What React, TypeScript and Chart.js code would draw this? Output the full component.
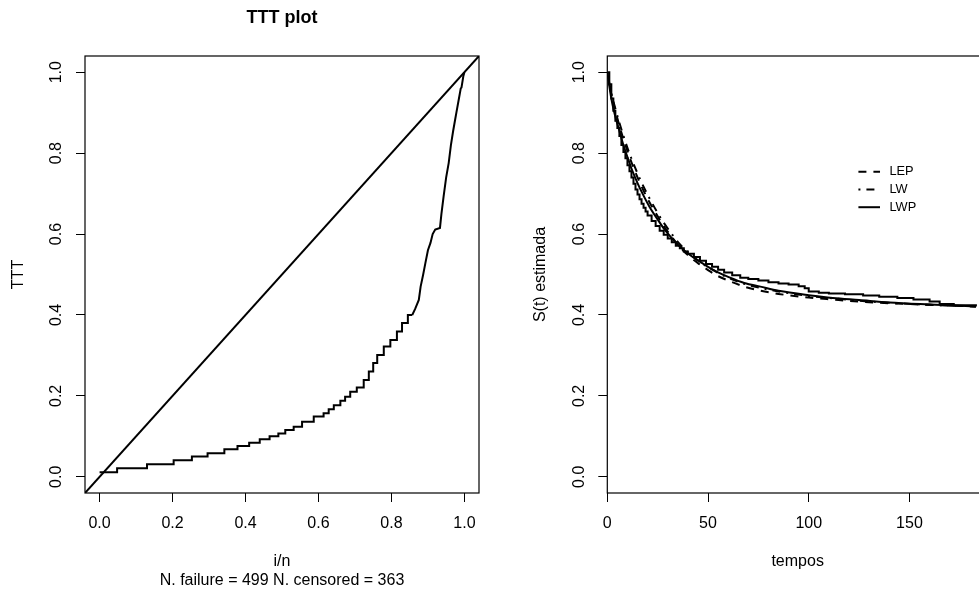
import { useEffect, useRef } from 'react';
import { Chart, registerables } from 'chart.js';

Chart.register(...registerables);

// ---------- data: TTT plot ----------
const tttTicks = [0, 0.2, 0.4, 0.6, 0.8, 1.0];
// stepped (lower) part of the empirical TTT curve
const tttStepX = [0, 0.048, 0.13, 0.203, 0.253, 0.296, 0.342, 0.378, 0.41, 0.439, 0.466, 0.49, 0.509, 0.532, 0.555, 0.587, 0.614, 0.628, 0.642, 0.66, 0.673, 0.687, 0.705, 0.724, 0.738, 0.75, 0.761, 0.779, 0.797, 0.815, 0.829, 0.845, 0.857];
const tttStepY = [0.011, 0.021, 0.031, 0.041, 0.05, 0.058, 0.068, 0.076, 0.084, 0.093, 0.1, 0.107, 0.116, 0.124, 0.136, 0.149, 0.157, 0.167, 0.177, 0.188, 0.198, 0.21, 0.221, 0.239, 0.26, 0.281, 0.301, 0.322, 0.338, 0.359, 0.38, 0.4, 0.4];
// steep (upper) part of the empirical TTT curve
const tttSteepX = [0.857, 0.865, 0.875, 0.88, 0.887, 0.893, 0.9, 0.907, 0.913, 0.92, 0.933, 0.937, 0.943, 0.95, 0.957, 0.963, 0.969, 0.975, 0.978, 0.985, 0.99, 0.992, 0.997, 1.0];
const tttSteepY = [0.4, 0.415, 0.437, 0.47, 0.5, 0.528, 0.56, 0.578, 0.6, 0.611, 0.615, 0.65, 0.693, 0.74, 0.776, 0.82, 0.854, 0.885, 0.9, 0.935, 0.96, 0.962, 0.99, 1.0];
const diagX = [-0.04, 1.04];
const diagY = [-0.04, 1.04];

// ---------- data: survival ----------
const timeTicks = [0, 50, 100, 150];
const survTicks = [0, 0.2, 0.4, 0.6, 0.8, 1.0];
const kmTimes = [0, 1, 2, 3, 4, 5, 6, 7, 8, 9, 10, 11, 12, 13, 14, 15, 16, 17, 18, 19, 20, 22, 24, 26, 28, 30, 32, 34, 36, 38, 40, 43, 46, 49, 52, 55, 58, 62, 66, 70, 75, 80, 85, 90, 95, 98, 100, 105, 110, 118, 127, 135, 144, 152, 160, 165, 172, 183];
const kmSurv = [1, 0.97, 0.935, 0.905, 0.88, 0.862, 0.842, 0.82, 0.803, 0.787, 0.77, 0.755, 0.74, 0.724, 0.71, 0.698, 0.686, 0.675, 0.665, 0.656, 0.646, 0.632, 0.62, 0.608, 0.598, 0.589, 0.58, 0.571, 0.565, 0.557, 0.551, 0.543, 0.534, 0.526, 0.519, 0.512, 0.505, 0.498, 0.492, 0.489, 0.485, 0.481, 0.478, 0.475, 0.471, 0.466, 0.458, 0.455, 0.453, 0.451, 0.448, 0.445, 0.442, 0.438, 0.433, 0.427, 0.424, 0.421];
const fitTimes = [0, 2, 4, 6, 8, 10, 12, 15, 18, 21, 25, 28, 32, 36, 40, 45, 50, 55, 60, 68, 76, 85, 100, 112, 125, 140, 160, 183];
const lepSurv = [1, 0.945, 0.905, 0.868, 0.835, 0.805, 0.777, 0.74, 0.707, 0.678, 0.644, 0.62, 0.593, 0.568, 0.548, 0.528, 0.511, 0.496, 0.485, 0.47, 0.46, 0.452, 0.443, 0.438, 0.433, 0.429, 0.425, 0.421];
const lwSurv = [1, 0.948, 0.91, 0.875, 0.843, 0.813, 0.786, 0.75, 0.717, 0.688, 0.652, 0.628, 0.6, 0.575, 0.555, 0.535, 0.518, 0.504, 0.492, 0.477, 0.467, 0.458, 0.447, 0.441, 0.435, 0.43, 0.425, 0.421];
const lwpSurv = [1, 0.935, 0.89, 0.855, 0.82, 0.79, 0.762, 0.726, 0.695, 0.667, 0.636, 0.614, 0.59, 0.569, 0.552, 0.535, 0.519, 0.505, 0.494, 0.479, 0.47, 0.46, 0.449, 0.442, 0.437, 0.431, 0.426, 0.421];
const legendLabels = ['LEP', 'LW', 'LWP'];

const FONT = "'Liberation Sans', Arial, Helvetica, sans-serif";
const LEP_DASH = [8, 7];
const LW_DASH = [2, 6, 8, 6];
const legendDashes = [LEP_DASH, LW_DASH, []];

const zip = (xs: number[], ys: number[]) => xs.map((x, i) => ({ x, y: ys[i] }));

const gridOpts = {
  display: true,
  drawOnChartArea: false,
  drawTicks: true,
  tickLength: 9,
  color: '#000',
  tickColor: '#000',
  lineWidth: 1,
};

function xScale(min: number, max: number, ticks: number[], fmt: (v: number) => string, title: string | string[], padBottom: number) {
  return {
    type: 'linear' as const,
    position: 'bottom' as const,
    min,
    max,
    afterBuildTicks: (s: any) => {
      s.ticks = ticks.map((v) => ({ value: v }));
    },
    afterFit: (s: any) => {
      s.height = 99;
    },
    ticks: {
      autoSkip: false,
      minRotation: 0,
      maxRotation: 0,
      padding: 11.6,
      color: '#000',
      font: { family: FONT, size: 16 },
      callback: (v: any) => fmt(Number(v)),
    },
    grid: gridOpts,
    border: { display: false },
    title: {
      display: true,
      text: title,
      color: '#000',
      font: { family: FONT, size: 16, lineHeight: 1.156 },
      padding: { top: 0, bottom: padBottom },
    },
  };
}

function yScale(width: number, title: string, padTop: number) {
  return {
    type: 'linear' as const,
    position: 'left' as const,
    min: -0.04,
    max: 1.04,
    afterBuildTicks: (s: any) => {
      s.ticks = survTicks.map((v) => ({ value: v }));
    },
    afterFit: (s: any) => {
      s.width = width;
    },
    ticks: {
      autoSkip: false,
      minRotation: 90,
      maxRotation: 90,
      crossAlign: 'center' as const,
      padding: 8,
      color: '#000',
      font: { family: FONT, size: 16 },
      callback: (v: any) => Number(v).toFixed(1),
    },
    grid: gridOpts,
    border: { display: false },
    title: {
      display: true,
      text: title,
      color: '#000',
      font: { family: FONT, size: 16, lineHeight: 1.156 },
      padding: { top: padTop, bottom: 0 },
    },
  };
}

const boxPlugin = {
  id: 'rbox',
  afterDraw(chart: any) {
    const { ctx, chartArea: a } = chart;
    ctx.save();
    ctx.strokeStyle = '#000';
    ctx.lineWidth = 1.2;
    ctx.setLineDash([]);
    ctx.strokeRect(a.left, a.top, a.right - a.left, a.bottom - a.top);
    ctx.restore();
  },
};

const titlePlugin = {
  id: 'rtitle',
  afterDraw(chart: any) {
    const { ctx, chartArea: a } = chart;
    ctx.save();
    ctx.fillStyle = '#000';
    ctx.font = `bold 18px ${FONT}`;
    ctx.textAlign = 'center';
    ctx.textBaseline = 'alphabetic';
    ctx.fillText('TTT plot', (a.left + a.right) / 2, 23.3);
    ctx.restore();
  },
};

const legendPlugin = {
  id: 'rlegend',
  afterDraw(chart: any) {
    const { ctx } = chart;
    const ax = chart.scales.x.getPixelForValue(120);
    const ay = chart.scales.y.getPixelForValue(0.8);
    ctx.save();
    ctx.fillStyle = '#000';
    ctx.strokeStyle = '#000';
    ctx.font = `12.8px ${FONT}`;
    ctx.textAlign = 'left';
    ctx.textBaseline = 'middle';
    legendLabels.forEach((lab, i) => {
      const y = ay + 18.7 + i * 17.7;
      ctx.lineWidth = 2;
      ctx.setLineDash(legendDashes[i]);
      ctx.beginPath();
      ctx.moveTo(ax + 9.4, y);
      ctx.lineTo(ax + 31, y);
      ctx.stroke();
      ctx.setLineDash([]);
      ctx.fillText(lab, ax + 40.4, y);
    });
    ctx.restore();
  },
};

const lineBase = {
  borderColor: '#000',
  backgroundColor: '#000',
  borderWidth: 2,
  pointRadius: 0,
  fill: false,
};

export default function App() {
  const leftRef = useRef<HTMLCanvasElement>(null);
  const rightRef = useRef<HTMLCanvasElement>(null);

  useEffect(() => {
    Chart.defaults.font.family = FONT;
    Chart.defaults.color = '#000';

    const left = new Chart(leftRef.current as HTMLCanvasElement, {
      type: 'line',
      data: {
        datasets: [
          { ...lineBase, label: 'TTT', data: zip(tttStepX, tttStepY), stepped: 'before' as const },
          { ...lineBase, label: 'TTT steep', data: zip(tttSteepX, tttSteepY) },
          { ...lineBase, label: 'diag', data: zip(diagX, diagY) },
        ],
      },
      options: {
        responsive: false,
        devicePixelRatio: 1,
        animation: false,
        events: [],
        layout: { padding: { top: 56, right: 11, left: 0, bottom: 0 } },
        plugins: { legend: { display: false }, tooltip: { enabled: false }, title: { display: false } },
        scales: {
          x: xScale(-0.04, 1.04, tttTicks, (v) => v.toFixed(1), ['i/n', 'N. failure = 499 N. censored = 363'], 2.45),
          y: yScale(85, 'TTT', 9.75),
        },
      },
      plugins: [boxPlugin, titlePlugin],
    } as any);

    const right = new Chart(rightRef.current as HTMLCanvasElement, {
      type: 'line',
      data: {
        datasets: [
          { ...lineBase, label: 'KM', data: zip(kmTimes, kmSurv), stepped: 'before' as const },
          { ...lineBase, label: 'LEP', data: zip(fitTimes, lepSurv), borderDash: LEP_DASH, cubicInterpolationMode: 'monotone' },
          { ...lineBase, label: 'LW', data: zip(fitTimes, lwSurv), borderDash: LW_DASH, cubicInterpolationMode: 'monotone' },
          { ...lineBase, label: 'LWP', data: zip(fitTimes, lwpSurv), cubicInterpolationMode: 'monotone' },
        ],
      },
      options: {
        responsive: false,
        devicePixelRatio: 1,
        animation: false,
        events: [],
        layout: { padding: { top: 56, right: 22, left: 0, bottom: 0 } },
        plugins: { legend: { display: false }, tooltip: { enabled: false }, title: { display: false } },
        scales: {
          x: xScale(0, 189, timeTicks, (v) => String(v), 'tempos', 21),
          y: yScale(117.3, 'S(t) estimada', 41.25),
        },
      },
      plugins: [boxPlugin, legendPlugin],
    } as any);

    return () => {
      left.destroy();
      right.destroy();
    };
  }, []);

  return (
    <div
      style={{
        position: 'fixed',
        left: 0,
        top: 0,
        width: 979,
        height: 592,
        overflow: 'hidden',
        background: '#fff',
      }}
    >
      <canvas ref={leftRef} width={490} height={592} style={{ position: 'absolute', left: 0, top: 0 }} />
      <canvas ref={rightRef} width={520} height={592} style={{ position: 'absolute', left: 490, top: 0 }} />
    </div>
  );
}
